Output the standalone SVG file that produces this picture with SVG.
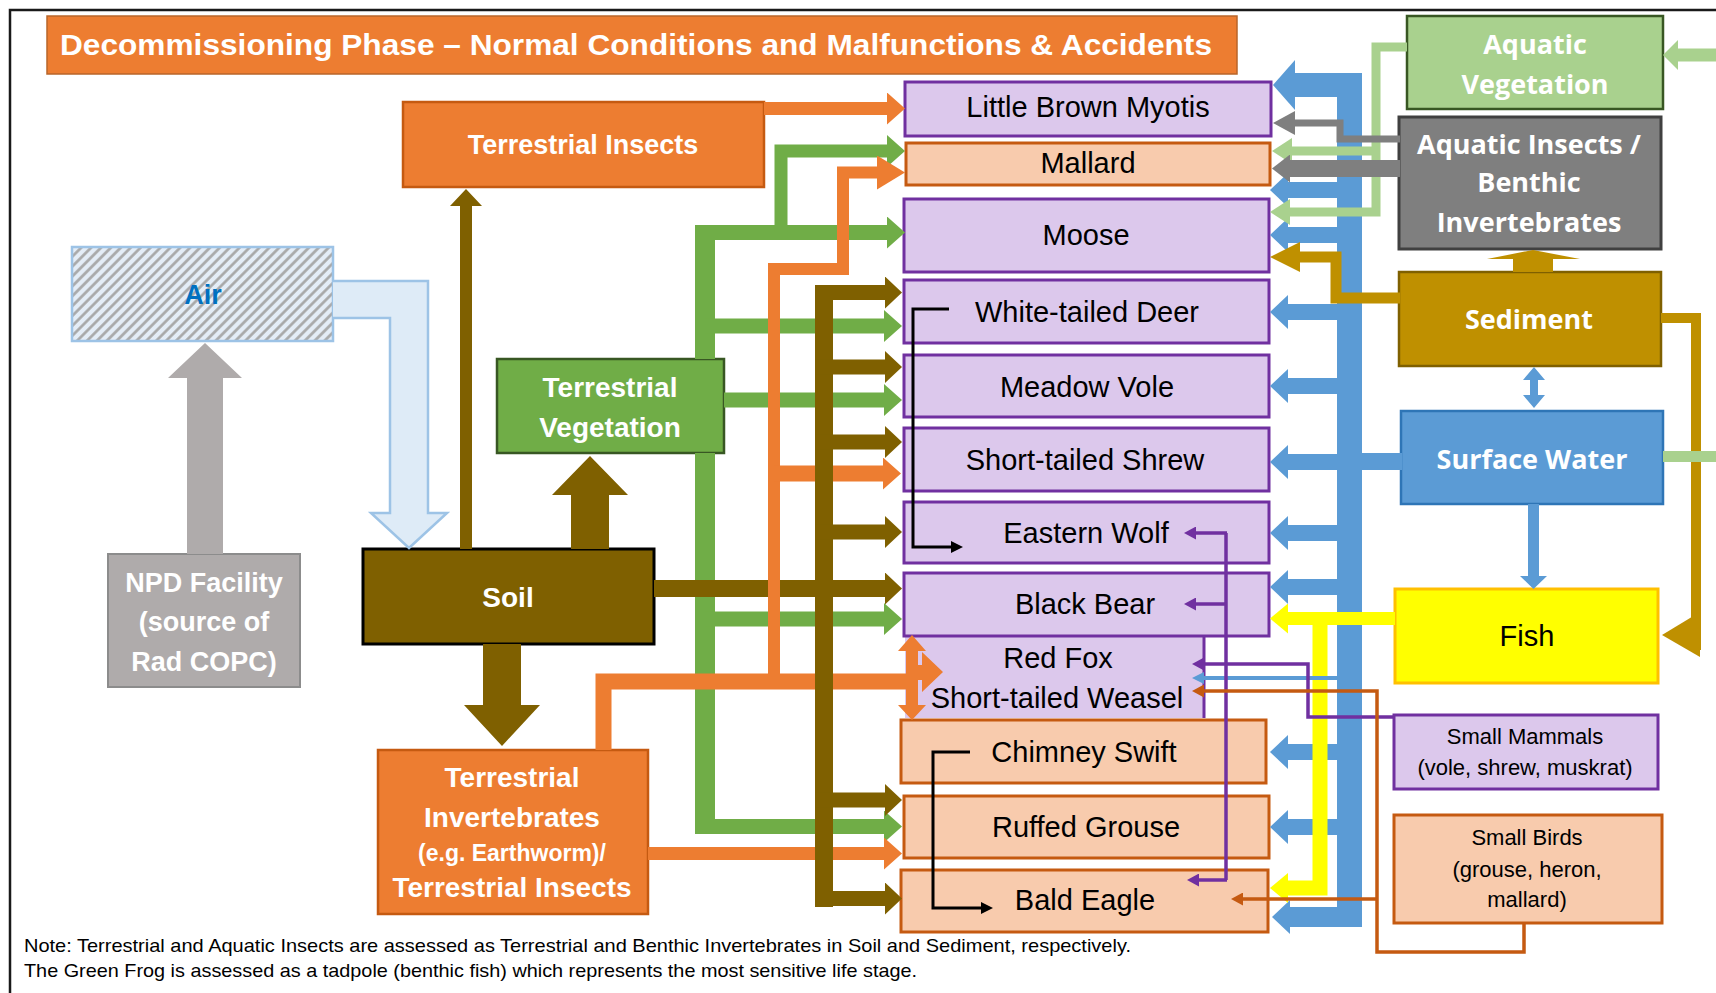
<svg xmlns="http://www.w3.org/2000/svg" width="1716" height="993" viewBox="0 0 1716 993">
<style>
text{font-family:"Liberation Sans",Arial,sans-serif}
.w{fill:#fff;font-weight:bold;font-size:28px;text-anchor:middle}
.aq{font-family:"Open Sans","Liberation Sans",sans-serif;fill:#fff;font-weight:bold;font-size:27px;text-anchor:middle}
.rc{fill:#000;font-size:29px;text-anchor:middle}
.sm{fill:#000;font-size:22px;text-anchor:middle}
.rp{fill:#DCC8EC;stroke:#7030A0;stroke-width:3}
.bd{fill:#F8CBAD;stroke:#C55A11;stroke-width:3}
.gL{fill:none;stroke:#70AD47;stroke-width:15;marker-end:url(#m-gr)}
.oL{fill:none;stroke:#ED7D31;stroke-width:13;marker-end:url(#m-or)}
.bL{fill:none;stroke:#7F6000;stroke-width:15;marker-end:url(#m-br)}
.uL{fill:none;stroke:#5B9BD5;stroke-width:16;marker-end:url(#m-bl)}
.pL{fill:none;stroke:#7030A0;stroke-width:3.5}
.dL{fill:none;stroke:#C55A11;stroke-width:3.5}
.kL{fill:none;stroke:#000;stroke-width:3}
</style>
<defs>
<pattern id="hatch" width="7" height="7" patternUnits="userSpaceOnUse" patternTransform="rotate(45)">
<rect width="7" height="7" fill="#E4EDF7"/>
<line x1="1.5" y1="0" x2="1.5" y2="7" stroke="#A6A6A6" stroke-width="2.6"/>
</pattern>
<marker id="m-gr" markerUnits="userSpaceOnUse" viewBox="0 0 18 32" refX="0" refY="16" markerWidth="18" markerHeight="32" orient="auto"><path d="M0,0 L18,16 L0,32z" fill="#70AD47"/></marker>
<marker id="m-or" markerUnits="userSpaceOnUse" viewBox="0 0 18 32" refX="0" refY="16" markerWidth="18" markerHeight="32" orient="auto"><path d="M0,0 L18,16 L0,32z" fill="#ED7D31"/></marker>
<marker id="m-or2" markerUnits="userSpaceOnUse" viewBox="0 0 28 34" refX="0" refY="17" markerWidth="28" markerHeight="34" orient="auto"><path d="M0,0 L28,17 L0,34z" fill="#ED7D31"/></marker>
<marker id="m-br" markerUnits="userSpaceOnUse" viewBox="0 0 17 32" refX="0" refY="16" markerWidth="17" markerHeight="32" orient="auto"><path d="M0,0 L17,16 L0,32z" fill="#7F6000"/></marker>
<marker id="m-bl" markerUnits="userSpaceOnUse" viewBox="0 0 18 34" refX="0" refY="17" markerWidth="18" markerHeight="34" orient="auto"><path d="M0,0 L18,17 L0,34z" fill="#5B9BD5"/></marker>
<marker id="m-bl2" markerUnits="userSpaceOnUse" viewBox="0 0 12 12" refX="0" refY="6" markerWidth="12" markerHeight="12" orient="auto"><path d="M0,0 L12,6 L0,12z" fill="#5B9BD5"/></marker>
<marker id="m-ye" markerUnits="userSpaceOnUse" viewBox="0 0 18 30" refX="0" refY="15" markerWidth="18" markerHeight="30" orient="auto"><path d="M0,0 L18,15 L0,30z" fill="#FFFF00"/></marker>
<marker id="m-lg" markerUnits="userSpaceOnUse" viewBox="0 0 20 26" refX="0" refY="13" markerWidth="20" markerHeight="26" orient="auto"><path d="M0,0 L20,13 L0,26z" fill="#A9D18E"/></marker>
<marker id="m-lg2" markerUnits="userSpaceOnUse" viewBox="0 0 15 30" refX="0" refY="15" markerWidth="15" markerHeight="30" orient="auto"><path d="M0,0 L15,15 L0,30z" fill="#A9D18E"/></marker>
<marker id="m-gy" markerUnits="userSpaceOnUse" viewBox="0 0 22 24" refX="0" refY="12" markerWidth="22" markerHeight="24" orient="auto"><path d="M0,0 L22,12 L0,24z" fill="#7F7F7F"/></marker>
<marker id="m-gy2" markerUnits="userSpaceOnUse" viewBox="0 0 18 28" refX="0" refY="14" markerWidth="18" markerHeight="28" orient="auto"><path d="M0,0 L18,14 L0,28z" fill="#7F7F7F"/></marker>
<marker id="m-gd" markerUnits="userSpaceOnUse" viewBox="0 0 30 30" refX="0" refY="15" markerWidth="30" markerHeight="30" orient="auto"><path d="M0,0 L30,15 L0,30z" fill="#BF9000"/></marker>
<marker id="m-pu" markerUnits="userSpaceOnUse" viewBox="0 0 12 13" refX="0" refY="6.5" markerWidth="12" markerHeight="13" orient="auto"><path d="M0,0 L12,6.5 L0,13z" fill="#7030A0"/></marker>
<marker id="m-do" markerUnits="userSpaceOnUse" viewBox="0 0 12 13" refX="0" refY="6.5" markerWidth="12" markerHeight="13" orient="auto"><path d="M0,0 L12,6.5 L0,13z" fill="#C55A11"/></marker>
<marker id="m-bk" markerUnits="userSpaceOnUse" viewBox="0 0 12 12" refX="0" refY="6" markerWidth="12" markerHeight="12" orient="auto"><path d="M0,0 L12,6 L0,12z" fill="#000"/></marker>
</defs>
<rect width="1716" height="993" fill="#fff"/>
<path d="M10,993 V10 H1716" fill="none" stroke="#1a1a1a" stroke-width="2.5"/>

<g id="title">
<rect x="47" y="16" width="1190" height="58" fill="#ED7D31" stroke="#B8652A" stroke-width="1.5"/>
<text x="60" y="55" fill="#fff" font-weight="bold" font-size="29" textLength="1152" lengthAdjust="spacingAndGlyphs">Decommissioning Phase – Normal Conditions and Malfunctions &amp; Accidents</text>
</g>

<g id="air">
<rect x="72" y="247" width="261" height="94" fill="url(#hatch)" stroke="#9DC3E6" stroke-width="2.5"/>
<text x="203" y="304" fill="#0070C0" font-weight="bold" font-size="27" text-anchor="middle">Air</text>
</g>
<g id="npd">
<rect x="108" y="554" width="192" height="133" fill="#AFABAB" stroke="#8C8C8C" stroke-width="2"/>
<text class="w" x="204" y="592" style="font-size:27px">NPD Facility</text>
<text class="w" x="204" y="631" style="font-size:27px">(source of</text>
<text class="w" x="204" y="671" style="font-size:27px">Rad COPC)</text>
</g>
<g id="soil">
<rect x="363" y="549" width="291" height="95" fill="#7F6000" stroke="#000" stroke-width="3"/>
<text class="w" x="508" y="607">Soil</text>
</g>
<g id="terrestrial-insects">
<rect x="403" y="102" width="361" height="85" fill="#ED7D31" stroke="#C55A11" stroke-width="2.5"/>
<text class="w" x="583" y="154" style="font-size:27px">Terrestrial Insects</text>
</g>
<g id="terrestrial-vegetation">
<rect x="497" y="359" width="227" height="94" fill="#70AD47" stroke="#385723" stroke-width="2.5"/>
<text class="w" x="610" y="397">Terrestrial</text>
<text class="w" x="610" y="437">Vegetation</text>
</g>
<g id="terrestrial-invertebrates">
<rect x="378" y="750" width="270" height="164" fill="#ED7D31" stroke="#C55A11" stroke-width="2.5"/>
<text class="w" x="512" y="787">Terrestrial</text>
<text class="w" x="512" y="827">Invertebrates</text>
<text class="w" x="512" y="861" style="font-size:23px">(e.g. Earthworm)/</text>
<text class="w" x="512" y="897">Terrestrial Insects</text>
</g>

<g id="little-brown-myotis"><rect class="rp" x="905" y="82" width="366" height="54"/><text class="rc" x="1088" y="117">Little Brown Myotis</text></g>
<g id="mallard"><rect class="bd" x="906" y="143" width="364" height="42"/><text class="rc" x="1088" y="173">Mallard</text></g>
<g id="moose"><rect class="rp" x="904" y="199" width="365" height="73"/><text class="rc" x="1086" y="245">Moose</text></g>
<g id="white-tailed-deer"><rect class="rp" x="904" y="280" width="365" height="63"/><text class="rc" x="1087" y="322">White-tailed Deer</text></g>
<g id="meadow-vole"><rect class="rp" x="904" y="355" width="365" height="62"/><text class="rc" x="1087" y="397">Meadow Vole</text></g>
<g id="short-tailed-shrew"><rect class="rp" x="904" y="428" width="365" height="63"/><text class="rc" x="1085" y="470">Short-tailed Shrew</text></g>
<g id="eastern-wolf"><rect class="rp" x="904" y="502" width="365" height="61"/><text class="rc" x="1086" y="543">Eastern Wolf</text></g>
<g id="red-fox-weasel"><rect x="905" y="636" width="299" height="82" fill="#DCC8EC"/><line x1="1204" y1="636" x2="1204" y2="718" stroke="#7030A0" stroke-width="3"/><text class="rc" x="1058" y="668">Red Fox</text><text class="rc" x="1057" y="708">Short-tailed Weasel</text></g>
<g id="black-bear"><rect class="rp" x="904" y="573" width="365" height="63"/><text class="rc" x="1085" y="614">Black Bear</text></g>
<g id="chimney-swift"><rect class="bd" x="901" y="720" width="365" height="63"/><text class="rc" x="1084" y="762">Chimney Swift</text></g>
<g id="ruffed-grouse"><rect class="bd" x="904" y="796" width="365" height="62"/><text class="rc" x="1086" y="837">Ruffed Grouse</text></g>
<g id="bald-eagle"><rect class="bd" x="901" y="870" width="367" height="62"/><text class="rc" x="1085" y="910">Bald Eagle</text></g>

<g id="aquatic-vegetation"><rect x="1407" y="16" width="256" height="93" fill="#A9D18E" stroke="#385723" stroke-width="2.5"/><text class="aq" x="1535" y="54">Aquatic</text><text class="aq" x="1535" y="94">Vegetation</text></g>
<g id="aquatic-insects"><rect x="1399" y="117" width="262" height="132" fill="#7F7F7F" stroke="#404040" stroke-width="3"/><text class="aq" x="1529" y="154">Aquatic Insects /</text><text class="aq" x="1529" y="192">Benthic</text><text class="aq" x="1529" y="232">Invertebrates</text></g>
<g id="sediment"><rect x="1399" y="272" width="262" height="94" fill="#BF9000" stroke="#7F6000" stroke-width="2.5"/><text class="aq" x="1529" y="329">Sediment</text></g>
<g id="surface-water"><rect x="1401" y="411" width="262" height="93" fill="#5B9BD5" stroke="#2E75B6" stroke-width="2.5"/><text class="aq" x="1532" y="469">Surface Water</text></g>
<g id="fish"><rect x="1395" y="589" width="263" height="94" fill="#FFFF00" stroke="#FFC000" stroke-width="3"/><text class="rc" x="1527" y="646">Fish</text></g>
<g id="small-mammals"><rect class="rp" x="1394" y="715" width="264" height="74"/><text class="sm" x="1525" y="744">Small Mammals</text><text class="sm" x="1525" y="775">(vole, shrew, muskrat)</text></g>
<g id="small-birds"><rect class="bd" x="1394" y="815" width="268" height="108"/><text class="sm" x="1527" y="845">Small Birds</text><text class="sm" x="1527" y="877">(grouse, heron,</text><text class="sm" x="1527" y="907">mallard)</text></g>

<g id="connectors">
<polygon fill="#AFABAB" points="187,554 187,378 168,378 205,343 242,378 223,378 223,554"/>
<path fill="#DEEBF7" stroke="#9DC3E6" stroke-width="2.5" d="M333,281 H428 V513 H447 L409,548 L371,513 H390 V318 H333"/>
<polygon fill="#7F6000" points="460,549 460,206 450,206 466,189 482,206 472,206 472,549"/>
<polygon fill="#7F6000" points="571,549 571,495 552,495 590,456 628,495 609,495 609,549"/>
<polygon fill="#7F6000" points="483,644 483,705 464,705 502,746 540,705 521,705 521,644"/>
<!-- green -->
<rect x="695" y="225" width="20" height="134" fill="#70AD47"/>
<rect x="695" y="453" width="20" height="380" fill="#70AD47"/>
<path class="gL" d="M695,232.5 H887"/>
<path class="gL" style="stroke-width:13px" d="M781,232 V151 H887"/>
<path class="gL" d="M705,326 H884"/>
<path class="gL" d="M724,400 H884"/>
<path class="gL" d="M705,619 H884"/>
<path class="gL" d="M695,826.5 H884"/>
<!-- soil horizontal -->
<path class="bL" style="stroke-width:17px" d="M654,588.5 H885"/>
<!-- orange -->
<path fill="none" stroke="#ED7D31" stroke-width="16" d="M603.5,750 V681.5 H912"/>
<path fill="none" stroke="#ED7D31" stroke-width="12" marker-end="url(#m-or2)" d="M774,681 V269 H843 V172.5 H877"/>
<path class="oL" style="stroke-width:16px" d="M774,473.5 H883"/>
<path class="oL" d="M648,853.5 H884"/>
<path class="oL" d="M764,108.5 H887"/>
<polygon fill="#ED7D31" points="912,635 926,651 918,651 918,705 926,705 912,720 898,705 906,705 906,651 898,651"/>
<polygon fill="#ED7D31" points="912,665 922,665 922,652 943,672 922,692 922,680 912,680"/>
<!-- brown bus -->
<rect x="815" y="285" width="18" height="622" fill="#7F6000"/>
<path class="bL" d="M815,292.5 H885"/>
<path class="bL" d="M815,367 H885"/>
<path class="bL" d="M815,442 H885"/>
<path class="bL" d="M815,532 H885"/>
<path class="bL" d="M815,800 H885"/>
<path class="bL" d="M815,898.5 H885"/>
<!-- blue -->
<rect x="1337" y="73" width="25" height="854" fill="#5B9BD5"/>
<rect x="1295" y="73" width="67" height="24" fill="#5B9BD5"/>
<polygon fill="#5B9BD5" points="1295,60 1273,85 1295,110"/>
<path class="uL" d="M1340,190 H1288"/>
<path class="uL" d="M1340,235 H1288"/>
<path class="uL" d="M1340,312 H1288"/>
<path class="uL" d="M1340,386 H1288"/>
<path class="uL" d="M1340,462 H1288"/>
<path class="uL" d="M1340,533 H1288"/>
<path class="uL" d="M1340,587 H1288"/>
<path class="uL" d="M1340,752 H1288"/>
<path class="uL" d="M1340,827 H1288"/>
<path class="uL" style="stroke-width:20px" d="M1340,917 H1290"/>
<rect x="1360" y="453" width="42" height="17" fill="#5B9BD5"/>
<polygon fill="#5B9BD5" points="1534,367 1545,380 1538,380 1538,395 1545,395 1534,408 1523,395 1530,395 1530,380 1523,380"/>
<polygon fill="#5B9BD5" points="1528,504 1539,504 1539,576 1547,576 1533.5,589 1520,576 1528,576"/>
<!-- yellow -->
<path fill="none" stroke="#FFFF00" stroke-width="13" marker-end="url(#m-ye)" d="M1395,618.5 H1288"/>
<path fill="none" stroke="#FFFF00" stroke-width="15" stroke-linejoin="miter" marker-end="url(#m-ye)" d="M1320,612 V888 H1288"/>
<!-- gold -->
<path fill="none" stroke="#BF9000" stroke-width="11" marker-end="url(#m-gd)" d="M1400,298 H1336 V257 H1300"/>
<polygon fill="#BF9000" points="1513,272 1513,259 1487,259 1533,250 1580,259 1553,259 1553,272"/>
<path fill="none" stroke="#BF9000" stroke-width="10" d="M1661,318 H1696 V650"/>
<polygon fill="#BF9000" points="1700,612 1662,635 1700,657"/>
<!-- light green -->
<path fill="none" stroke="#A9D18E" stroke-width="9" marker-end="url(#m-lg)" d="M1407,47 H1376 V212 H1290"/>
<path fill="none" stroke="#A9D18E" stroke-width="9" marker-end="url(#m-lg)" d="M1376,151 H1292"/>
<path fill="none" stroke="#A9D18E" stroke-width="13" marker-end="url(#m-lg2)" d="M1716,55 H1678"/>
<path fill="none" stroke="#A9D18E" stroke-width="11" d="M1663,456.5 H1716"/>
<!-- gray -->
<path fill="none" stroke="#7F7F7F" stroke-width="7" marker-end="url(#m-gy)" d="M1400,139 H1340 V123 H1295"/>
<path fill="none" stroke="#7F7F7F" stroke-width="17" marker-end="url(#m-gy2)" d="M1400,168.5 H1290"/>
<!-- thin blue -->
<path fill="none" stroke="#5B9BD5" stroke-width="4" marker-end="url(#m-bl2)" d="M1337,678 H1204"/>
<!-- purple -->
<path class="pL" marker-end="url(#m-pu)" d="M1394,717 H1308 V664 H1204"/>
<path class="pL" d="M1226,533 V880"/>
<path class="pL" marker-end="url(#m-pu)" d="M1227,533 H1196"/>
<path class="pL" marker-end="url(#m-pu)" d="M1227,604 H1196"/>
<path class="pL" marker-end="url(#m-pu)" d="M1227,880 H1199"/>
<!-- dark orange -->
<path class="dL" marker-end="url(#m-do)" d="M1524,923 V952 H1377 V691 H1204"/>
<path class="dL" marker-end="url(#m-do)" d="M1377,899 H1243"/>
<!-- black -->
<path class="kL" marker-end="url(#m-bk)" d="M949,309 H913 V547 H951"/>
<path class="kL" marker-end="url(#m-bk)" d="M970,752 H933 V908 H981"/>
</g>

<g id="note">
<text x="24" y="952" font-size="19" fill="#000" textLength="1107" lengthAdjust="spacingAndGlyphs">Note: Terrestrial and Aquatic Insects are assessed as Terrestrial and Benthic Invertebrates in Soil and Sediment, respectively.</text>
<text x="24" y="977" font-size="19" fill="#000" textLength="893" lengthAdjust="spacingAndGlyphs">The Green Frog is assessed as a tadpole (benthic fish) which represents the most sensitive life stage.</text>
</g>
</svg>
